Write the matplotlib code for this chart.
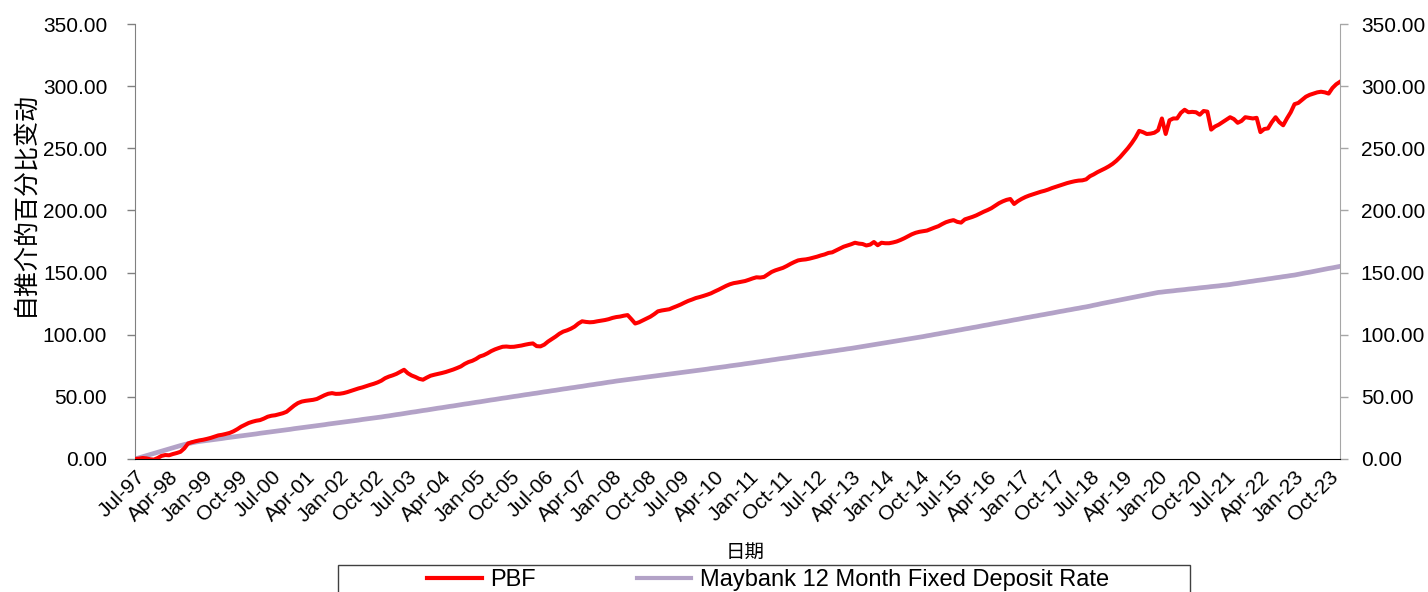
import matplotlib
matplotlib.use("Agg")
import matplotlib.pyplot as plt
import pandas as pd
import numpy as np
from matplotlib.patches import Rectangle

plt.rcParams['font.family'] = ['Liberation Sans', 'Noto Sans CJK SC', 'DejaVu Sans']

# Monthly dates Jul-97 .. Jan-24
dates = pd.date_range('1997-07-01', '2024-01-01', freq='MS')

pbf = [
    0.0, 0.3, 0.8, 0.5, -0.2, -0.5,                                           # 1997 H2
    0.8, 2.5, 3.2, 3.0, 4.0, 4.8, 5.8, 8.5, 12.5, 13.5, 14.3, 15.0,           # 1998
    15.5, 16.2, 17.0, 18.0, 19.0, 19.5, 20.2, 21.0, 22.3, 24.0, 26.0, 27.5,   # 1999
    29.0, 30.0, 30.8, 31.3, 32.5, 34.0, 34.8, 35.2, 36.0, 36.8, 38.0, 40.5,   # 2000
    43.0, 45.0, 46.2, 46.8, 47.2, 47.6, 48.3, 49.8, 51.3, 52.5, 53.0, 52.4,   # 2001
    52.5, 53.0, 53.8, 54.8, 55.8, 56.8, 57.6, 58.6, 59.6, 60.5, 61.6, 63.0,   # 2002
    65.0, 66.3, 67.3, 68.5, 70.2, 71.8, 69.0, 67.2, 66.0, 64.5, 63.8, 65.5,   # 2003
    67.0, 67.8, 68.5, 69.2, 70.0, 71.0, 72.0, 73.2, 74.5, 76.5, 78.0, 79.0,   # 2004
    80.5, 82.5, 83.5, 85.0, 86.8, 88.2, 89.3, 90.3, 90.5, 90.2, 90.3, 90.8,   # 2005
    91.3, 92.0, 92.6, 93.0, 90.8, 90.6, 92.0, 94.5, 96.5, 98.5, 100.8, 102.5, # 2006
    103.5, 104.8, 106.5, 109.0, 110.8, 110.3, 110.0, 110.2, 110.8, 111.3, 111.8, 112.5,  # 2007
    113.5, 114.2, 114.6, 115.3, 115.8, 112.5, 109.0, 110.0, 111.5, 113.0, 114.5, 116.5,  # 2008
    118.8, 119.5, 120.0, 120.5, 121.8, 123.0, 124.3, 125.8, 127.2, 128.3, 129.5, 130.3,  # 2009
    131.2, 132.2, 133.3, 134.8, 136.2, 137.8, 139.3, 140.6, 141.5, 142.0, 142.6, 143.2,  # 2010
    144.2, 145.3, 146.2, 146.0, 146.5, 148.5, 150.5, 151.8, 152.8, 153.8, 155.3, 157.0,  # 2011
    158.5, 159.8, 160.3, 160.6, 161.2, 162.0, 162.8, 163.8, 164.6, 165.8, 166.3, 167.8,  # 2012
    169.3, 170.8, 171.8, 172.8, 174.0, 173.3, 173.0, 171.8, 172.5, 174.6, 172.0, 174.0,  # 2013
    173.6, 173.6, 174.2, 175.0, 176.2, 177.6, 179.2, 180.8, 182.0, 182.8, 183.3, 183.8,  # 2014
    185.0, 186.2, 187.3, 189.0, 190.5, 191.5, 192.2, 190.8, 190.2, 192.8, 193.8, 194.8,  # 2015
    196.0, 197.5, 199.0, 200.3, 201.8, 203.8, 205.8, 207.3, 208.5, 209.2, 205.2, 207.5,  # 2016
    209.3, 210.8, 212.0, 213.0, 214.0, 215.0, 215.8, 216.8, 218.0, 219.0, 220.0, 221.0,  # 2017
    222.0, 222.8, 223.5, 224.0, 224.2, 225.0, 227.5, 229.0, 230.8, 232.3, 233.8, 235.5,  # 2018
    237.5, 240.0, 243.0, 246.5, 250.0, 254.0, 258.5, 264.0, 263.0, 261.5, 261.8, 262.5,  # 2019
    264.5, 274.0, 261.5, 272.5, 274.0, 274.0, 278.5, 281.0, 279.0, 279.3, 279.0, 277.0,  # 2020
    280.0, 279.5, 265.0, 267.5, 269.0, 271.0, 273.0, 275.0, 273.5, 270.5, 272.0, 275.0,  # 2021
    274.5, 274.0, 274.5, 263.0, 265.5, 266.0, 271.0, 275.0, 271.0, 268.5, 274.0, 279.0,  # 2022
    285.5, 286.5, 289.0, 291.5, 293.0, 294.0, 295.0, 295.5, 295.0, 294.0, 298.5, 301.5,  # 2023
    303.5,                                                                    # 2024
]

maybank = [
    0.0, 0.9, 1.8, 2.7, 3.6, 4.5,
    5.4, 6.3, 7.2, 8.1, 9.0, 9.9, 10.8, 11.6, 12.3, 13.0, 13.6, 14.1,
    14.5, 14.9, 15.3, 15.7, 16.1, 16.5, 17.0, 17.4, 17.8, 18.2, 18.6, 19.0,
    19.4, 19.8, 20.2, 20.7, 21.1, 21.5, 21.9, 22.3, 22.7, 23.1, 23.5, 23.9,
    24.4, 24.8, 25.2, 25.6, 26.0, 26.4, 26.8, 27.2, 27.6, 28.1, 28.5, 28.9,
    29.3, 29.7, 30.1, 30.5, 30.9, 31.3, 31.8, 32.2, 32.6, 33.0, 33.4, 33.8,
    34.3, 34.7, 35.2, 35.7, 36.1, 36.6, 37.1, 37.6, 38.0, 38.5, 39.0, 39.4,
    39.9, 40.4, 40.9, 41.3, 41.8, 42.3, 42.7, 43.2, 43.7, 44.2, 44.6, 45.1,
    45.6, 46.0, 46.5, 47.0, 47.5, 47.9, 48.4, 48.9, 49.3, 49.8, 50.3, 50.7,
    51.2, 51.7, 52.1, 52.6, 53.0, 53.5, 54.0, 54.4, 54.9, 55.3, 55.8, 56.3,
    56.7, 57.2, 57.6, 58.1, 58.5, 59.0, 59.5, 59.9, 60.4, 60.8, 61.3, 61.8,
    62.2, 62.7, 63.1, 63.5, 63.9, 64.3, 64.7, 65.1, 65.5, 65.9, 66.3, 66.7,
    67.1, 67.5, 67.9, 68.3, 68.7, 69.1, 69.5, 69.9, 70.3, 70.7, 71.1, 71.5,
    71.9, 72.3, 72.8, 73.2, 73.6, 74.0, 74.4, 74.9, 75.3, 75.7, 76.1, 76.6,
    77.0, 77.4, 77.9, 78.3, 78.8, 79.2, 79.7, 80.1, 80.6, 81.0, 81.4, 81.9,
    82.3, 82.8, 83.2, 83.7, 84.1, 84.6, 85.0, 85.4, 85.9, 86.3, 86.8, 87.2,
    87.7, 88.1, 88.6, 89.0, 89.5, 90.0, 90.5, 91.0, 91.5, 92.0, 92.5, 93.0,
    93.5, 94.0, 94.5, 95.0, 95.5, 96.0, 96.5, 97.0, 97.5, 98.0, 98.5, 99.1,
    99.6, 100.2, 100.7, 101.3, 101.8, 102.4, 102.9, 103.5, 104.0, 104.6, 105.1, 105.7,
    106.2, 106.8, 107.4, 107.9, 108.5, 109.1, 109.6, 110.2, 110.7, 111.3, 111.9, 112.4,
    113.0, 113.6, 114.1, 114.7, 115.2, 115.8, 116.3, 116.9, 117.4, 118.0, 118.6, 119.1,
    119.7, 120.2, 120.8, 121.3, 121.9, 122.4, 123.0, 123.7, 124.3, 125.0, 125.6, 126.2,
    126.8, 127.4, 128.0, 128.6, 129.2, 129.8, 130.4, 131.0, 131.6, 132.2, 132.8, 133.4,
    134.0, 134.3, 134.7, 135.0, 135.3, 135.7, 136.0, 136.3, 136.7, 137.0, 137.3, 137.7,
    138.0, 138.3, 138.7, 139.0, 139.3, 139.7, 140.0, 140.4, 140.9, 141.3, 141.8, 142.2,
    142.7, 143.1, 143.6, 144.0, 144.4, 144.9, 145.3, 145.8, 146.2, 146.7, 147.1, 147.6,
    148.0, 148.6, 149.2, 149.8, 150.3, 150.9, 151.5, 152.1, 152.7, 153.3, 153.8, 154.4,
    155.0,
]

y_ticks = [0, 50, 100, 150, 200, 250, 300, 350]
tick_step = 9  # a label every 9 months

n = min(len(dates), len(pbf), len(maybank))
x = np.arange(n)
labels = [d.strftime('%b-%y') for d in dates[:n]]

fig = plt.figure(figsize=(14.28, 5.92), dpi=100)
ax = fig.add_axes([135/1428, 1-459/592, (1340-135)/1428, (459-24)/592])
ax2 = ax.twinx()

ax.plot(x, pbf[:n], color='#FF0000', lw=2.9, solid_joinstyle='round', zorder=3)
ax2.plot(x, maybank[:n], color='#B3A2C7', lw=3.4, solid_joinstyle='round', zorder=2)
ax.set_zorder(ax2.get_zorder() + 1)
ax.patch.set_visible(False)

for a in (ax, ax2):
    a.set_ylim(0, 350)
    a.set_yticks(y_ticks)
    a.set_yticklabels([f'{v:.2f}' for v in y_ticks])
    a.set_xlim(0, n - 1)
    a.spines['top'].set_visible(False)

ax.spines['left'].set_color('#808080')
ax.spines['right'].set_visible(False)
ax.spines['bottom'].set_color('black')
ax2.spines['left'].set_visible(False)
ax2.spines['bottom'].set_visible(False)
ax2.spines['right'].set_color('#A6A6A6')

ax.tick_params(axis='y', labelsize=15, length=6, width=1, color='#808080', pad=14)
ax2.tick_params(axis='y', labelsize=15, length=6, width=1, color='#A6A6A6', pad=9)

ticks = list(range(0, n, tick_step))
ax.set_xticks(ticks)
ax.set_xticklabels([labels[i] for i in ticks], rotation=45, ha='right',
                   va='top', rotation_mode='anchor', fontsize=15)
ax.tick_params(axis='x', length=0, pad=6)

fig.text(25/1428, 1-204/592, '自推介的百分比变动', rotation=90, ha='center', va='center',
         fontsize=18, family=['Noto Sans CJK SC', 'DejaVu Sans'])
fig.text(745/1428, 1-552/592, '日期', ha='center', va='center', fontsize=14,
         family=['Noto Sans CJK SC', 'DejaVu Sans'])

# Legend box
fig.patches.append(Rectangle((338/1428, -0.05), (1190-338)/1428, 0.05 + (592-565)/592,
                             transform=fig.transFigure, fill=False, edgecolor='#404040', lw=1))
h1 = plt.Line2D([], [], color='#FF0000', lw=3)
h2 = plt.Line2D([], [], color='#B3A2C7', lw=3)
fig.legend([h1, h2], ['PBF', 'Maybank 12 Month Fixed Deposit Rate'], loc='center',
           bbox_to_anchor=(768/1428, 1-580/592), ncol=2, frameon=False, fontsize=17,
           handlelength=2.3, columnspacing=4.3, handletextpad=0.35, borderpad=0)

fig.savefig('out.png', dpi=100)
